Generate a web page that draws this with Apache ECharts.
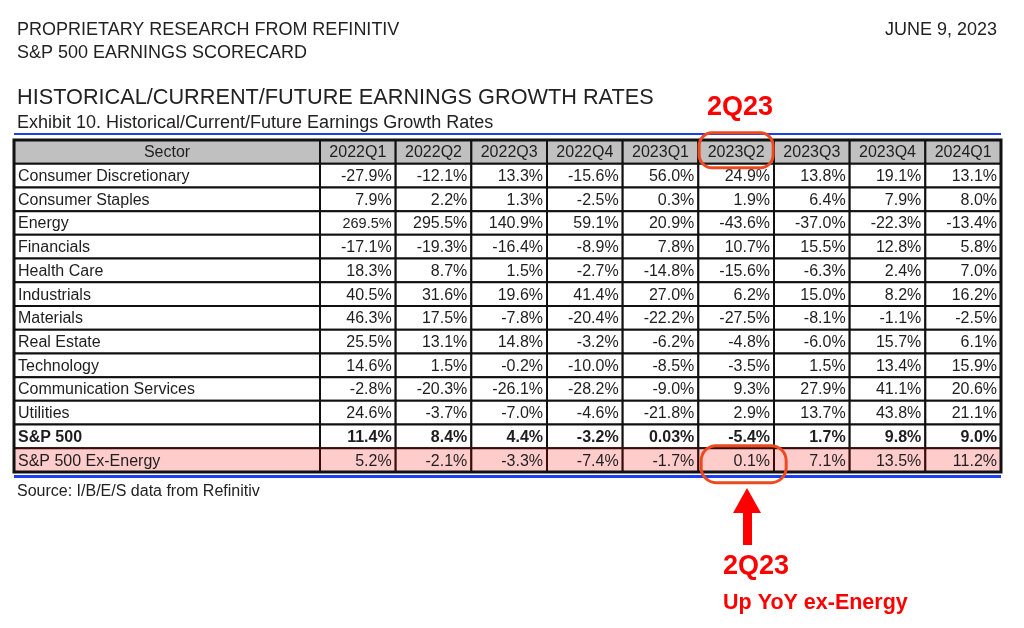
<!DOCTYPE html>
<html><head><meta charset="utf-8">
<script src="https://cdn.jsdelivr.net/npm/echarts@6/dist/echarts.min.js"></script>
<style>html,body{margin:0;padding:0;background:#fff}#c{width:1024px;height:628px}</style>
</head><body><div id="c"></div>
<script>
const quarters = ['2022Q1','2022Q2','2022Q3','2022Q4','2023Q1','2023Q2','2023Q3','2023Q4','2024Q1'];
const sectors = ['Consumer Discretionary','Consumer Staples','Energy','Financials','Health Care','Industrials','Materials','Real Estate','Technology','Communication Services','Utilities','S&P 500','S&P 500 Ex-Energy'];
const consumerDiscretionary = ['-27.9','-12.1','13.3','-15.6','56.0','24.9','13.8','19.1','13.1'];
const consumerStaples = ['7.9','2.2','1.3','-2.5','0.3','1.9','6.4','7.9','8.0'];
const energy = ['269.5','295.5','140.9','59.1','20.9','-43.6','-37.0','-22.3','-13.4'];
const financials = ['-17.1','-19.3','-16.4','-8.9','7.8','10.7','15.5','12.8','5.8'];
const healthCare = ['18.3','8.7','1.5','-2.7','-14.8','-15.6','-6.3','2.4','7.0'];
const industrials = ['40.5','31.6','19.6','41.4','27.0','6.2','15.0','8.2','16.2'];
const materials = ['46.3','17.5','-7.8','-20.4','-22.2','-27.5','-8.1','-1.1','-2.5'];
const realEstate = ['25.5','13.1','14.8','-3.2','-6.2','-4.8','-6.0','15.7','6.1'];
const technology = ['14.6','1.5','-0.2','-10.0','-8.5','-3.5','1.5','13.4','15.9'];
const communicationServices = ['-2.8','-20.3','-26.1','-28.2','-9.0','9.3','27.9','41.1','20.6'];
const utilities = ['24.6','-3.7','-7.0','-4.6','-21.8','2.9','13.7','43.8','21.1'];
const sp500 = ['11.4','8.4','4.4','-3.2','0.03','-5.4','1.7','9.8','9.0'];
const sp500ExEnergy = ['5.2','-2.1','-3.3','-7.4','-1.7','0.1','7.1','13.5','11.2'];
const rowValues = [consumerDiscretionary, consumerStaples, energy, financials, healthCare, industrials, materials, realEstate, technology, communicationServices, utilities, sp500, sp500ExEnergy];
const headerLabel = 'Sector';
const rowLabels = [headerLabel].concat(sectors);
const BOLD_ROW = 12, PINK_ROW = 13;
const FONT = '"Liberation Sans", Arial, Helvetica, sans-serif';

function cellShape(api, r) {
  const p = api.coord([api.value(0), api.value(1)]);
  const s = api.size([1, 1]);
  let fill = '#ffffff', stroke = '#111111';
  if (r === 0) fill = '#c0c0c0';
  if (r === PINK_ROW) { fill = '#ffcccc'; stroke = '#3a0c0c'; }
  return { p, s, fill, stroke, x: p[0] - s[0] / 2, y: p[1] - s[1] / 2 };
}

function renderSector(params, api) {
  const r = api.value(1);
  const c = cellShape(api, r);
  const txt = rowLabels[r];
  return { type: 'group', children: [
    { type: 'rect', shape: { x: c.x, y: c.y, width: c.s[0], height: c.s[1] }, style: { fill: c.fill, stroke: c.stroke, lineWidth: 2 } },
    { type: 'text', style: { x: r === 0 ? c.p[0] : c.x + 4, y: c.p[1] + 1, text: txt, align: r === 0 ? 'center' : 'left', verticalAlign: 'middle', fill: '#1e1e1e', fontFamily: FONT, fontSize: 16, fontWeight: r === BOLD_ROW ? 'bold' : 'normal' } }
  ]};
}

function renderValue(params, api) {
  const col = api.value(0), r = api.value(1);
  const c = cellShape(api, r);
  const txt = r === 0 ? quarters[col] : rowValues[r - 1][col] + '%';
  const small = (r === 3 && col === 0);
  return { type: 'group', children: [
    { type: 'rect', shape: { x: c.x, y: c.y, width: c.s[0], height: c.s[1] }, style: { fill: c.fill, stroke: c.stroke, lineWidth: 2 } },
    { type: 'text', style: { x: r === 0 ? c.p[0] : c.x + c.s[0] - 4, y: c.p[1] + 1, text: txt, align: r === 0 ? 'center' : 'right', verticalAlign: 'middle', fill: '#1e1e1e', fontFamily: FONT, fontSize: small ? 14.5 : 16, fontWeight: r === BOLD_ROW ? 'bold' : 'normal' } }
  ]};
}

const sectorData = rowLabels.map((_, r) => [0, r]);
const valueData = [];
for (let r = 0; r < rowLabels.length; r++) for (let q = 0; q < quarters.length; q++) valueData.push([q, r]);

const chart = echarts.init(document.getElementById('c'), null, { renderer: 'canvas' });
const txt = (text, x, y, size, opts) => Object.assign({ type: 'text', x, y, style: { text, fill: '#222', fontFamily: FONT, fontSize: size, verticalAlign: 'middle', align: 'left' } }, opts || {});
chart.setOption({
  animation: false,
  backgroundColor: '#fff',
  grid: [
    { left: 14, top: 140, width: 306, height: 332 },
    { left: 320, top: 140, width: 681, height: 332 }
  ],
  xAxis: [
    { gridIndex: 0, type: 'category', data: [headerLabel], show: false },
    { gridIndex: 1, type: 'category', data: quarters, show: false }
  ],
  yAxis: [
    { gridIndex: 0, type: 'category', data: rowLabels, inverse: true, show: false },
    { gridIndex: 1, type: 'category', data: rowLabels, inverse: true, show: false }
  ],
  series: [
    { type: 'custom', xAxisIndex: 0, yAxisIndex: 0, data: sectorData, renderItem: renderSector, silent: true },
    { type: 'custom', xAxisIndex: 1, yAxisIndex: 1, data: valueData, renderItem: renderValue, silent: true }
  ]
});

const c1 = chart.convertToPixel({ xAxisIndex: 1, yAxisIndex: 1 }, [5, 0]);
const c2 = chart.convertToPixel({ xAxisIndex: 1, yAxisIndex: 1 }, [5, PINK_ROW]);
const RED = '#ff0000', ORANGE = '#ee4a1f';
chart.setOption({
  graphic: [
    txt('PROPRIETARY RESEARCH FROM REFINITIV', 17, 30, 18),
    txt('S&P 500 EARNINGS SCORECARD', 17, 53, 18),
    { type: 'text', x: 997, y: 30, style: { text: 'JUNE 9, 2023', fill: '#222', fontFamily: FONT, fontSize: 18, align: 'right', verticalAlign: 'middle' } },
    txt('HISTORICAL/CURRENT/FUTURE EARNINGS GROWTH RATES', 17, 98, 21.7),
    txt('Exhibit 10. Historical/Current/Future Earnings Growth Rates', 17, 123, 18),
    txt('Source: I/B/E/S data from Refinitiv', 17, 492, 16),
    { type: 'rect', shape: { x: 14, y: 133, width: 987, height: 2 }, style: { fill: '#1a3ef0' } },
    { type: 'rect', shape: { x: 14, y: 475, width: 987, height: 3 }, style: { fill: '#1a3ef0' } },
    { type: 'rect', shape: { x: 14, y: 140, width: 987, height: 332 }, style: { fill: 'none', stroke: '#111', lineWidth: 3 }, z: 10 },
    { type: 'rect', shape: { x: c1[0] - 37, y: c1[1] - 19, width: 74, height: 35, r: 13 }, style: { fill: 'none', stroke: ORANGE, lineWidth: 3 }, z: 20 },
    { type: 'rect', shape: { x: c2[0] - 35, y: c2[1] - 14.5, width: 85, height: 37, r: 15 }, style: { fill: 'none', stroke: ORANGE, lineWidth: 3 }, z: 20 },
    { type: 'text', x: 707, y: 108, style: { text: '2Q23', fill: RED, fontFamily: FONT, fontSize: 27, fontWeight: 'bold', verticalAlign: 'middle' }, z: 20 },
    { type: 'polygon', shape: { points: [[747, 488], [733, 513], [761, 513]] }, style: { fill: RED }, z: 20 },
    { type: 'rect', shape: { x: 743, y: 511, width: 9, height: 34 }, style: { fill: RED }, z: 20 },
    { type: 'text', x: 723, y: 567, style: { text: '2Q23', fill: RED, fontFamily: FONT, fontSize: 27, fontWeight: 'bold', verticalAlign: 'middle' }, z: 20 },
    { type: 'text', x: 723, y: 603, style: { text: 'Up YoY ex-Energy', fill: RED, fontFamily: FONT, fontSize: 21.5, fontWeight: 'bold', verticalAlign: 'middle' }, z: 20 }
  ]
});
</script></body></html>
